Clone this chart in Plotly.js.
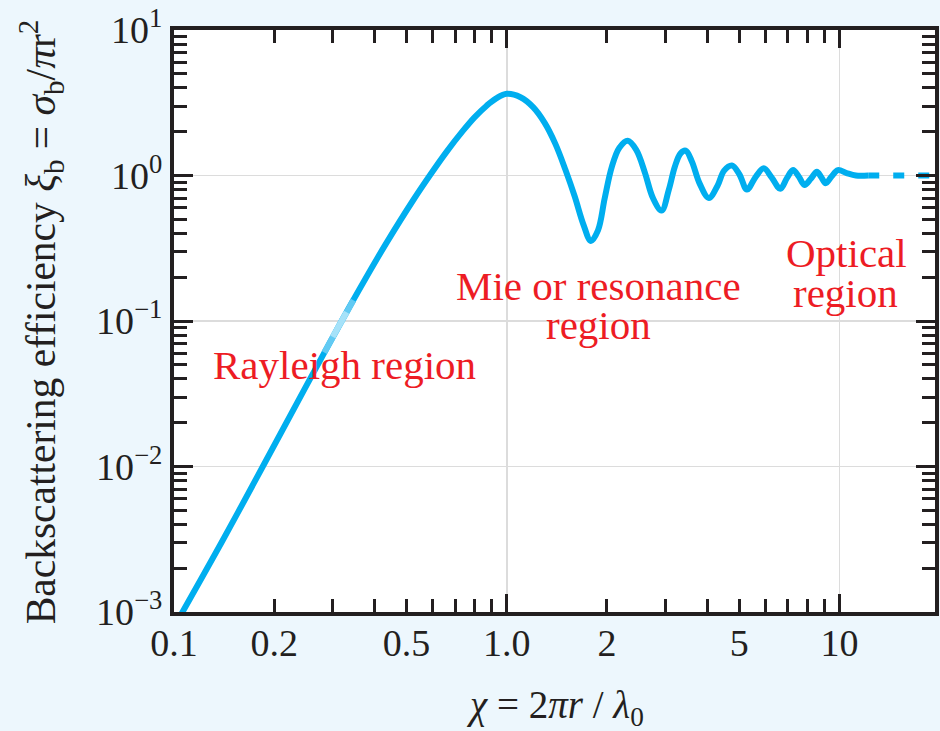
<!DOCTYPE html>
<html>
<head>
<meta charset="utf-8">
<script src="https://cdn.plot.ly/plotly-3.0.1.min.js"></script>
<style>
  html, body { margin: 0; padding: 0; background: #edf7fd; }
  #chart { width: 940px; height: 731px; }
</style>
</head>
<body>
<div id="chart"></div>
<script>
// Backscattering efficiency of a sphere versus size parameter
const sizeParam = [0.105, 0.14, 0.184, 0.25, 0.316, 0.375, 0.436, 0.525, 0.587, 0.66, 0.74, 0.8, 0.87, 0.93, 1.0,
  1.1, 1.2, 1.3, 1.4, 1.5, 1.6, 1.7, 1.79, 1.88, 1.97, 2.07, 2.18, 2.31, 2.45, 2.6, 2.75, 2.92,
  3.07, 3.2, 3.33, 3.45, 3.6, 3.8, 4.05, 4.3, 4.5, 4.75, 5.0, 5.27, 5.6, 5.92, 6.25, 6.64,
  6.95, 7.25, 7.55, 7.85, 8.2, 8.55, 8.8, 9.09, 9.45, 9.89, 10.5, 11.2, 12.2];
const efficiency = [0.00096, 0.0031, 0.0098, 0.036, 0.0964, 0.193, 0.347, 0.684, 1.0, 1.46, 2.04, 2.51, 3.02, 3.39, 3.64,
  3.45, 2.95, 2.3, 1.65, 1.1, 0.72, 0.46, 0.355, 0.42, 0.7, 1.15, 1.55, 1.73, 1.5, 1.05, 0.7, 0.574,
  0.8, 1.15, 1.42, 1.48, 1.25, 0.88, 0.70, 0.85, 1.08, 1.17, 1.02, 0.80, 0.98, 1.12, 0.97, 0.81,
  0.96, 1.09, 0.98, 0.86, 0.95, 1.06, 0.98, 0.885, 0.98, 1.09, 1.04, 1.0, 1.0];

// optical limit continues as a dashed line
const opticalX = [12.2, 19.4];
const opticalY = [1.0, 1.0];

// lighter highlight on the Rayleigh slope (outer and inner band)
const glowOuterX = [0.283, 0.316, 0.346];
const glowOuterY = [0.0608, 0.0964, 0.139];
const glowInnerX = [0.30, 0.316, 0.33];
const glowInnerY = [0.0778, 0.0964, 0.115];

const xTickVals = [0.1, 0.2, 0.5, 1, 2, 5, 10];
const xTickText = ['0.1', '0.2', '0.5', '1.0', '2', '5', '10'];
const yTickVals = [0.001, 0.01, 0.1, 1, 10];
const yTickText = ['10<sup>\u22123</sup>', '10<sup>\u22122</sup>', '10<sup>\u22121</sup>', '10<sup>0</sup>', '10<sup>1</sup>'];

const FONT = 'Liberation Serif, Times New Roman, serif';
const INK = '#231f20';
const LINE = '#00aeef';
const RED = '#ed1c24';

// minor tick positions 2..9 within each decade
function minorsIn(lo, hi) {
  const out = [];
  for (let e = lo; e < hi; e++) {
    for (let m = 2; m <= 9; m++) out.push(m * Math.pow(10, e));
  }
  return out;
}

const M = { l: 174, r: 4.5, t: 29.5, b: 119 };
const W = 940, H = 731;
const pw = W - M.l - M.r, ph = H - M.t - M.b;
const px = v => (v - M.l) / pw;
const py = v => (H - M.b - v) / ph;

const traces = [
  { x: sizeParam, y: efficiency, type: 'scatter', mode: 'lines',
    line: { color: LINE, width: 6, shape: 'spline', smoothing: 1 }, hoverinfo: 'skip' },
  { x: glowOuterX, y: glowOuterY, type: 'scatter', mode: 'lines',
    line: { color: '#62caf3', width: 6 }, hoverinfo: 'skip' },
  { x: glowInnerX, y: glowInnerY, type: 'scatter', mode: 'lines',
    line: { color: '#a6e2f9', width: 6 }, hoverinfo: 'skip' },
  { x: opticalX, y: opticalY, type: 'scatter', mode: 'lines',
    line: { color: LINE, width: 6, dash: '11px,14px' }, hoverinfo: 'skip' },
  { x: [], y: [], xaxis: 'x2', yaxis: 'y', type: 'scatter', mode: 'lines', hoverinfo: 'skip' }
];

function label(text, cx, cy, size, color, angle) {
  return { text: text, xref: 'paper', yref: 'paper', x: px(cx), y: py(cy),
    xanchor: 'center', yanchor: 'middle', showarrow: false, textangle: angle || 0,
    font: { family: FONT, size: size, color: color } };
}

const layout = {
  width: W, height: H,
  margin: M,
  paper_bgcolor: '#edf7fd',
  plot_bgcolor: '#ffffff',
  showlegend: false,
  xaxis: {
    type: 'log', range: [-1, 1.287],
    tickmode: 'array', tickvals: [0.1, 1, 10],
    ticks: 'inside', ticklen: 18, tickwidth: 3, tickcolor: INK,
    showticklabels: false,
    showline: true, linewidth: 4, linecolor: INK, mirror: 'ticks',
    showgrid: true, gridcolor: '#dcdcdc', gridwidth: 1.5, zeroline: false,
    minor: { tickmode: 'array', tickvals: minorsIn(-1, 2), ticks: 'inside',
      ticklen: 13, tickwidth: 3, tickcolor: INK, showgrid: false }
  },
  xaxis2: {
    type: 'log', range: [-1, 1.287], overlaying: 'x', anchor: 'y', side: 'bottom',
    tickmode: 'array', tickvals: xTickVals, ticktext: xTickText,
    ticks: '', showline: false, showgrid: false, zeroline: false,
    ticklabelstandoff: 5,
    tickfont: { family: FONT, size: 38, color: INK }
  },
  yaxis: {
    type: 'log', range: [-3, 1],
    tickmode: 'array', tickvals: yTickVals, ticktext: yTickText,
    ticks: 'inside', ticklen: 19, tickwidth: 3, tickcolor: INK,
    showline: true, linewidth: 4, linecolor: INK, mirror: 'ticks',
    showgrid: true, gridcolor: '#dcdcdc', gridwidth: 1.5, zeroline: false,
    tickfont: { family: FONT, size: 38, color: INK },
    minor: { tickmode: 'array', tickvals: minorsIn(-3, 1), ticks: 'inside',
      ticklen: 13, tickwidth: 3, tickcolor: INK, showgrid: false }
  },
  annotations: [
    label('Backscattering efficiency <i>ξ</i><sub>b</sub> = <i>σ</i><sub>b</sub>/<i>π</i>r<sup>2</sup>',
      41, 322, 41.5, INK, -90),
    label('<i>χ</i> = 2<i>πr</i> / <i>λ</i><sub>0</sub>', 555, 708, 39, INK),
    label('Rayleigh region', 344.5, 365, 41, RED),
    label('Mie or resonance', 598.5, 286, 41, RED),
    label('region', 598.5, 325, 41, RED),
    label('Optical', 846.5, 253, 41, RED),
    label('region', 846, 293, 41, RED)
  ]
};

Plotly.newPlot('chart', traces, layout, { displayModeBar: false, staticPlot: true });
</script>
</body>
</html>
